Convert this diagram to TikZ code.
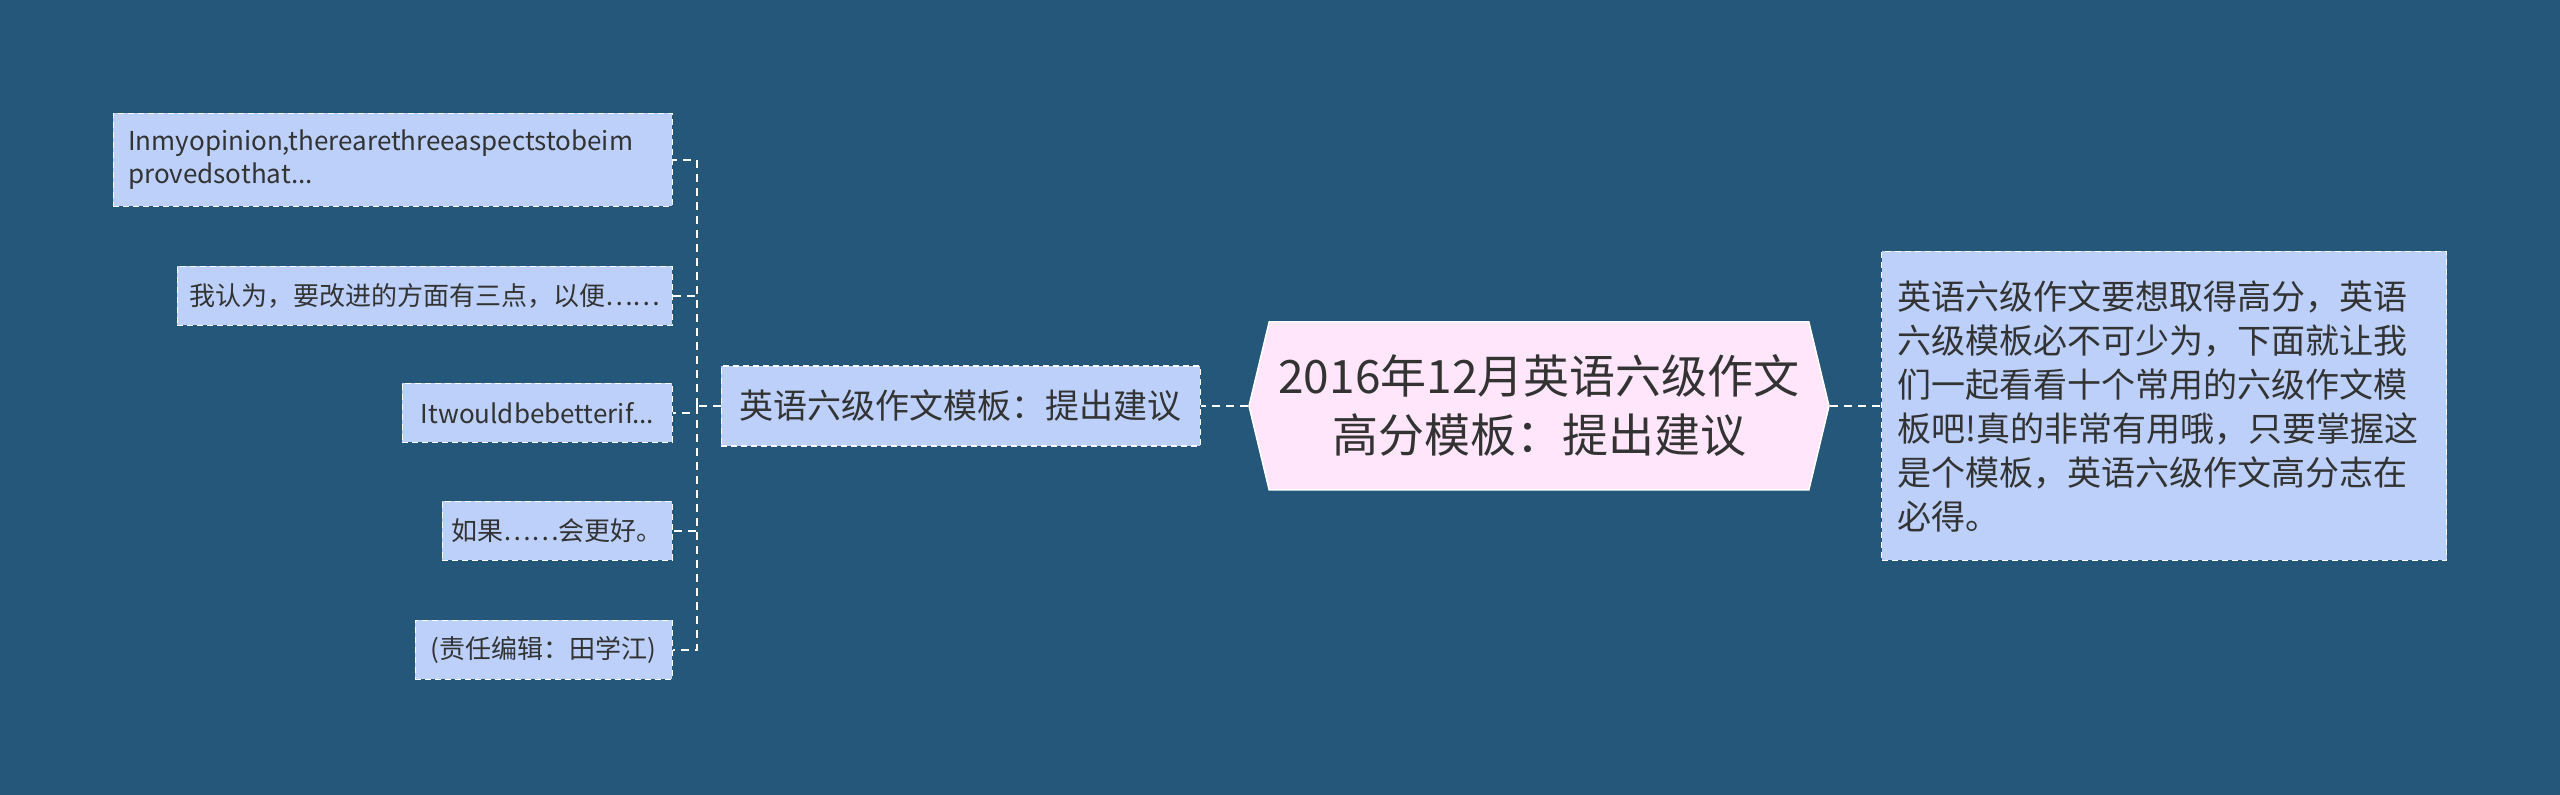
\documentclass[tikz,border=0pt]{standalone}
\usepackage{fontspec}
\setmainfont{Noto Sans CJK SC}
\usetikzlibrary{positioning}
\usetikzlibrary{shapes.symbols}

\definecolor{bgblue}{HTML}{245779}
\definecolor{leaffill}{HTML}{BCD0FA}
\definecolor{hubfill}{HTML}{FFE6FA}
\definecolor{inkgray}{HTML}{333333}

\begin{document}
\begin{tikzpicture}
  [
    x=0.5pt, y=-0.5pt,
    link/.style  = {draw=white, line width=1pt, dash pattern=on 4pt off 3pt},
    leaf/.style  = {draw=white, fill=leaffill, line width=0.75pt, dash pattern=on 3pt off 2pt,
                    text=inkgray, font=\fontsize{13}{16.5}\selectfont, anchor=east,
                    inner sep=0pt, minimum height=29.5pt, align=left},
    topic/.style = {draw=white, fill=leaffill, line width=0.75pt, dash pattern=on 3pt off 2pt,
                    text=inkgray, font=\fontsize{17}{22}\selectfont,
                    inner sep=0pt, minimum width=239.5pt, minimum height=40pt},
    hub/.style   = {shape=signal, signal to=east and west, signal pointer angle=153,
                    draw=white, fill=hubfill, line width=0.75pt, text=inkgray,
                    font=\fontsize{23}{29.5}\selectfont, align=center,
                    inner sep=0pt, minimum width=290pt, minimum height=84pt},
    note/.style  = {draw=white, fill=leaffill, line width=0.75pt, dash pattern=on 3pt off 2pt,
                    text=inkgray, font=\fontsize{17}{22}\selectfont, align=left,
                    text width=266.5pt, inner xsep=8pt, inner ysep=0pt, minimum height=154.5pt},
  ]

  % background and page size
  \fill[bgblue] (0,0) rectangle (2560,795);
  \useasboundingbox (0,0) rectangle (2560,795);

  % centre topic
  \node[hub] (hub) at (1539,406) {2016年12月英语六级作文\\高分模板：提出建议};

  % right: summary
  \node[note, right=25.5pt of hub] (note) {英语六级作文要想取得高分，英语\\六级模板必不可少为，下面就让我\\们一起看看十个常用的六级作文模\\板吧!真的非常有用哦，只要掌握这\\是个模板，英语六级作文高分志在\\必得。};

  % left: branch and its bus point
  \node[topic, left=23.5pt of hub] (branch) {英语六级作文模板：提出建议};
  \coordinate[left=12pt of branch] (bus);

  % left: leaves
  \node[leaf, text width=264.5pt, inner xsep=7.5pt, minimum height=46.5pt] (l1) at (673,160) {Inmyopinion,therearethreeaspectstobeim\\provedsothat...};
  \node[leaf, minimum width=247.5pt] (l2) at (673,296) {我认为，要改进的方面有三点，以便……};
  \node[leaf, minimum width=135pt] (l3) at (673,413) {Itwouldbebetterif...};
  \node[leaf, minimum width=115pt] (l4) at (673,531) {如果……会更好。};
  \node[leaf, minimum width=128.5pt] (l5) at (673,650) {(责任编辑：田学江)};

  % connectors
  \draw[link] (hub.west) -- (branch.east);
  \draw[link] (hub.east) -- (note.west);
  \draw[link] (branch.west) -- (bus);
  \foreach \n in {l1,l2,l3,l4,l5}
    \draw[link] (bus) |- (\n.east);
\end{tikzpicture}
\end{document}
